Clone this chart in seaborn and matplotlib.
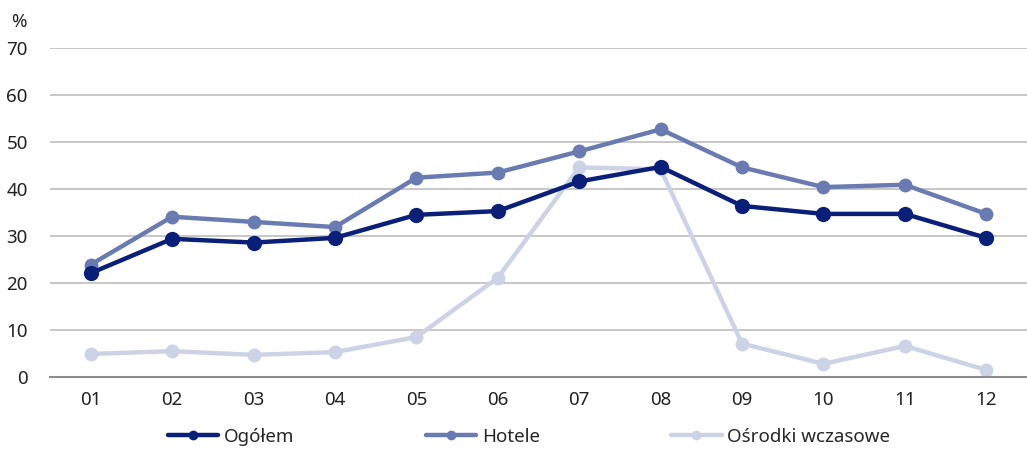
import matplotlib
matplotlib.use("Agg")
import matplotlib.pyplot as plt
import seaborn as sns
import pandas as pd
from matplotlib.lines import Line2D

months = ["01", "02", "03", "04", "05", "06", "07", "08", "09", "10", "11", "12"]
ogolem = [22.1, 29.4, 28.6, 29.6, 34.5, 35.3, 41.6, 44.7, 36.4, 34.7, 34.7, 29.6]
hotele = [23.9, 34.1, 33.0, 31.9, 42.4, 43.5, 48.0, 52.7, 44.6, 40.4, 40.9, 34.7]
osrodki = [4.9, 5.5, 4.7, 5.3, 8.5, 21.1, 44.6, 44.2, 7.1, 2.8, 6.6, 1.5]
series_names = ["Ogółem", "Hotele", "Ośrodki wczasowe"]
colors = {"Ogółem": "#0a1f78", "Hotele": "#6a7bb2", "Ośrodki wczasowe": "#cdd3e6"}

df = pd.DataFrame({
    "month": months * 3,
    "value": ogolem + hotele + osrodki,
    "series": [series_names[0]] * 12 + [series_names[1]] * 12 + [series_names[2]] * 12,
})
df["x"] = list(range(12)) * 3

sns.set_theme(style="white")
plt.rcParams["font.family"] = ["Noto Sans", "DejaVu Sans"]

fig = plt.figure(figsize=(10.27, 4.5), dpi=100)
ax = fig.add_axes([50 / 1027, (450 - 377) / 450, (1027 - 50) / 1027, (377 - 48) / 450])

for name in reversed(series_names):
    sub = df[df["series"] == name]
    sns.lineplot(data=sub, x="x", y="value", ax=ax, color=colors[name],
                 linewidth=3.2, marker="o", markersize=10 if name != "Ogółem" else 11,
                 markeredgewidth=0, legend=False)

ax.set_xlim(-0.5, 11.5)
ax.set_ylim(0, 70)
ax.set_yticks(range(0, 71, 10))
ax.set_xticks(range(12))
ax.set_xticklabels(months)
ax.grid(axis="y", color="#bdbdbd", linewidth=1.2)
ax.set_axisbelow(True)
for s in ["left", "right", "top"]:
    ax.spines[s].set_visible(False)
ax.spines["bottom"].set_color("#8c8c8c")
ax.spines["bottom"].set_linewidth(1.5)
ax.tick_params(axis="both", length=0, labelsize=13.5, colors="#222222")
ax.tick_params(axis="y", pad=16)
ax.tick_params(axis="x", pad=10)
ax.set_xlabel("")
ax.set_ylabel("")
fig.text(11 / 1027, 1 - 22 / 450, "%", fontsize=13.5, color="#222222", va="center")

handles = [Line2D([0], [0], color=colors[n], linewidth=3.2, marker="o", markersize=6) for n in series_names]
fig.legend(handles, series_names, loc="center", bbox_to_anchor=(0.515, 1 - 437 / 450), ncol=3,
           frameon=False, fontsize=13.5, handlelength=2.7, handletextpad=0.3, columnspacing=7.0)

fig.savefig("out.png", dpi=100)
